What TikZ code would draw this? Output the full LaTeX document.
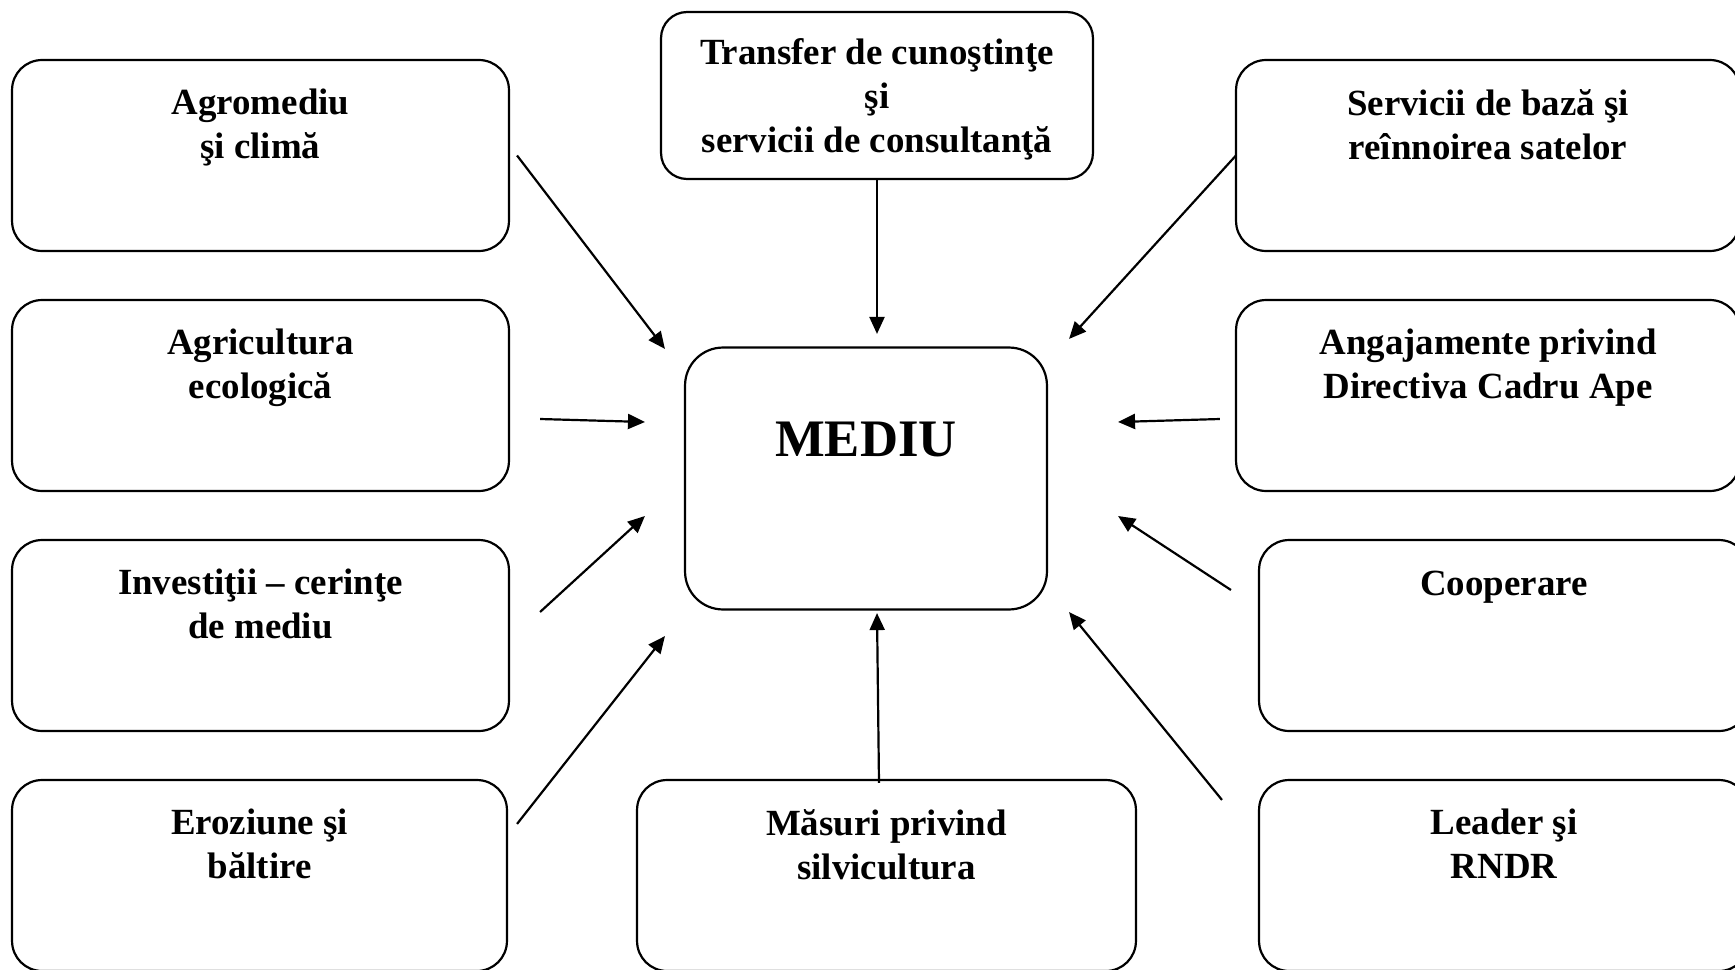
\documentclass[tikz,border=0pt]{standalone}
\usepackage{fontspec}
\setmainfont{Liberation Serif}
\usetikzlibrary{arrows.meta, positioning, calc}

\begin{document}
\begin{tikzpicture}[
    x=0.02cm, y=-0.02cm,
    box/.style={draw, line width=1.25pt, rounded corners=0.6cm, minimum width=9.94cm, minimum height=3.82cm},
    boxtext/.style={font=\bfseries\fontsize{21}{25}\selectfont, align=center, inner sep=0pt},
    arrow/.style={-{Triangle[length=0.34cm, width=0.3cm]}, line width=1.25pt}
]
    \useasboundingbox (0,0) rectangle (1735,970);

    % Centre
    \node[box, minimum width=7.24cm, minimum height=5.24cm, rounded corners=0.76cm] (mediu) at (866,478.5) {};
    \node[font=\bfseries\fontsize{30}{36}\selectfont, inner sep=0pt, below=1.5cm of mediu.north] (mediuText) {MEDIU};

    % Left column
    \node[box] (agro) at (260.5,155.5) {};
    \node[boxtext, below=0.6cm of agro.north] (agroText) {Agromediu\\şi climă};

    \node[box] (agri) at (260.5,395.5) {};
    \node[boxtext, below=0.6cm of agri.north] (agriText) {Agricultura\\ecologică};

    \node[box] (inv) at (260.5,635.5) {};
    \node[boxtext, below=0.6cm of inv.north] (invText) {Investiţii – cerinţe\\de mediu};

    \node[box, minimum width=9.9cm] (eroz) at (259.5,875.5) {};
    \node[boxtext, below=0.6cm of eroz.north] (erozText) {Eroziune şi\\băltire};

    % Middle column
    \node[box, minimum width=8.64cm, minimum height=3.34cm, rounded corners=0.52cm] (transfer) at (877,95.5) {};
    \node[boxtext, below=0.55cm of transfer.north] (transferText) {Transfer de cunoştinţe\\şi\\servicii de consultanţă};

    \node[box, minimum width=9.98cm] (masuri) at (886.5,875.5) {};
    \node[boxtext, below=0.6cm of masuri.north] (masuriText) {Măsuri privind\\silvicultura};

    % Right column
    \node[box, minimum width=10.08cm] (serv) at (1488,155.5) {};
    \node[boxtext, below=0.6cm of serv.north] (servText) {Servicii de bază şi\\reînnoirea satelor};

    \node[box, minimum width=10.08cm] (anga) at (1488,395.5) {};
    \node[boxtext, below=0.6cm of anga.north] (angaText) {Angajamente privind\\Directiva Cadru Ape};

    \node[box, minimum width=9.8cm] (coop) at (1504,635.5) {};
    \node[boxtext, below=0.64cm of coop.north] (coopText) {Cooperare};

    \node[box, minimum width=9.8cm] (leader) at (1504,875.5) {};
    \node[boxtext, below=0.6cm of leader.north] (leaderText) {Leader şi\\RNDR};

    % Arrows towards the centre
    \draw[arrow] ($(agro.east)+(7,0)$) -- ($(mediu.north west)+(-19,2.5)$);
    \draw[arrow] ($(agri.east)+(30,23.5)$) -- ($(mediu.west)+(-39,-56.5)$);
    \draw[arrow] ($(inv.east)+(30,-23.5)$) -- ($(mediu.west)+(-39,37.5)$);
    \draw[arrow] ($(eroz.north east)+(9,45)$) -- ($(mediu.south west)+(-19,25.5)$);
    \draw[arrow] (transfer.south) -- ($(mediu.north)+(11,-12.5)$);
    \draw[arrow] ($(masuri.north)+(-7.5,4)$) -- ($(mediu.south)+(11,2.5)$);
    \draw[arrow] ($(serv.west)+(1,0)$) -- ($(mediu.north east)+(21,-7.5)$);
    \draw[arrow] ($(anga.west)+(-15,23.5)$) -- ($(mediu.east)+(70,-56.5)$);
    \draw[arrow] ($(coop.west)+(-27,-45.5)$) -- ($(mediu.east)+(70,37.5)$);
    \draw[arrow] ($(leader.north west)+(-36,21)$) -- ($(mediu.south east)+(21,1.5)$);
\end{tikzpicture}
\end{document}
